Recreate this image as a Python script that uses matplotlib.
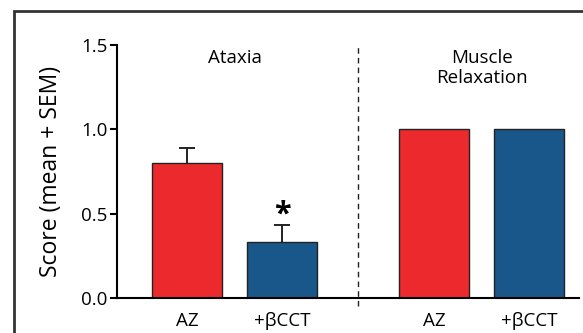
import matplotlib.pyplot as plt
from matplotlib.patches import Rectangle

plt.rcParams['font.family'] = ['Open Sans', 'DejaVu Sans']

# values
panels = ['Ataxia', 'Muscle\nRelaxation']
tick_labels = ['AZ', '+βCCT', 'AZ', '+βCCT']
means = [0.80, 0.33, 1.00, 1.00]
sems = [0.09, 0.10, 0.0, 0.0]
colors = ['#EC2A2E', '#19568A', '#EC2A2E', '#19568A']
positions = [0, 1, 2.6, 3.6]

fig = plt.figure(figsize=(5.83, 3.33), dpi=100)
ax = fig.add_axes([0.2007, 0.1051, 0.7924, 0.7598])

ax.bar(positions, means, width=0.74, color=colors, edgecolor='#222222', linewidth=1.0, zorder=2)
err_x = [p for p, s in zip(positions, sems) if s > 0]
err_m = [m for m, s in zip(means, sems) if s > 0]
err_s = [s for s in sems if s > 0]
# lower half sits inside the bar, hidden behind it
ax.errorbar(err_x, err_m, yerr=[[0.05] * len(err_s), err_s], fmt='none', ecolor='#222222',
            elinewidth=1.4, capsize=5.5, capthick=1.4, zorder=1)

# significance mark
ax.text(positions[1], means[1] + sems[1] + 0.065, '*', ha='center', va='center',
        fontsize=22, fontweight='bold')

# divider between panels
ax.axvline(1.8, ymin=-0.03, ymax=1.0, color='#222222', linestyle=(0, (4, 3)), linewidth=1.0, clip_on=False)

ax.text(0.5, 1.475, panels[0], ha='center', va='top', fontsize=13.5)
ax.text(3.1, 1.475, panels[1], ha='center', va='top', fontsize=13.5, linespacing=1.15)

ax.set_xlim(-0.737, 4.126)
ax.set_ylim(0, 1.5)
ax.set_yticks([0, 0.5, 1.0, 1.5])
ax.set_yticklabels(['0.0', '0.5', '1.0', '1.5'], fontsize=13.5)
ax.set_xticks(positions)
ax.set_xticklabels(tick_labels, fontsize=13.5)
ax.tick_params(axis='x', length=0, pad=10)
ax.tick_params(axis='y', length=5, width=1.5, pad=2)
ax.set_ylabel('Score (mean + SEM)', fontsize=16.5, labelpad=13)

for s in ['top', 'right']:
    ax.spines[s].set_visible(False)
ax.spines['left'].set_linewidth(1.5)
ax.spines['bottom'].set_linewidth(1.5)

# outer frame, cut off at right and bottom
fig.patches.append(Rectangle((14 / 583, -0.1), 1.2, 1 - 11 / 333 + 0.1, transform=fig.transFigure,
                             fill=False, edgecolor='#333333', linewidth=2))

fig.savefig('out.png', dpi=100)
